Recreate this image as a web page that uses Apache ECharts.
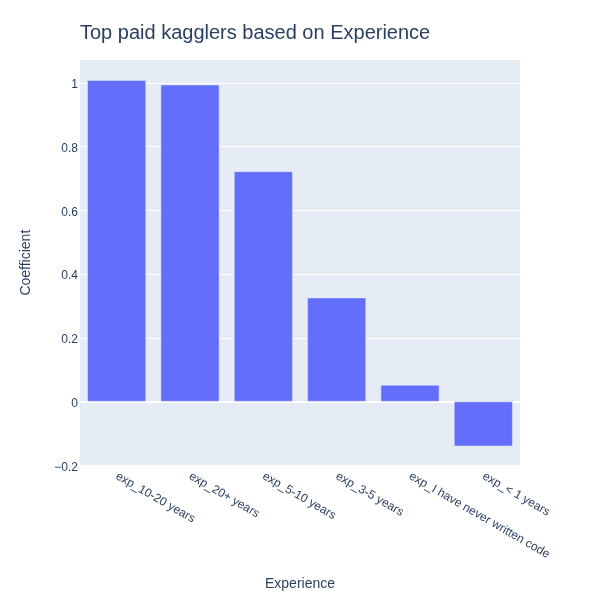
<!DOCTYPE html>
<html>
<head>
<meta charset="utf-8">
<script src="https://cdn.jsdelivr.net/npm/echarts@6/dist/echarts.min.js"></script>
<style>
  html, body { margin: 0; padding: 0; background: #fff; }
  #chart { width: 600px; height: 600px; }
</style>
</head>
<body>
<div id="chart"></div>
<script>
// experience groups and their coefficients
const categories = [
  'exp_10-20 years',
  'exp_20+ years',
  'exp_5-10 years',
  'exp_3-5 years',
  'exp_I have never written code',
  'exp_< 1 years'
]
const coefficients = [1.008, 0.994, 0.722, 0.326, 0.052, -0.140]
const yTicks = [-0.2, 0, 0.2, 0.4, 0.6, 0.8, 1]

const font = '"Liberation Sans", Arial, sans-serif'
const ink = '#2a3f5f'

const chart = echarts.init(document.getElementById('chart'))

chart.setOption({
  animation: false,
  title: {
    text: 'Top paid kagglers based on Experience',
    left: 75,
    top: 18,
    textStyle: { fontFamily: font, fontSize: 20, fontWeight: 'normal', color: ink }
  },
  grid: {
    left: 80,
    right: 80,
    top: 60,
    bottom: 134.7,
    show: true,
    backgroundColor: '#e5ecf6',
    borderWidth: 0
  },
  xAxis: {
    type: 'category',
    data: categories,
    name: 'Experience',
    nameLocation: 'middle',
    nameGap: 112,
    nameTextStyle: { fontFamily: font, fontSize: 14, color: ink },
    axisLine: { show: false },
    axisTick: { show: false },
    axisLabel: {
      rotate: -30,
      margin: 10,
      interval: 0,
      fontFamily: font,
      fontSize: 12,
      color: ink
    },
    splitLine: { show: false }
  },
  yAxis: {
    type: 'value',
    min: yTicks[0],
    max: 1.0717,
    interval: 0.2,
    name: 'Coefficient',
    nameLocation: 'middle',
    nameGap: 47,
    nameTextStyle: { fontFamily: font, fontSize: 14, color: ink },
    axisLine: { show: false },
    axisTick: { show: false },
    axisLabel: {
      showMaxLabel: false,
      margin: 2,
      fontFamily: font,
      fontSize: 12,
      color: ink,
      formatter: v => '{t|' + String(+v.toFixed(1)).replace('-', '\u2212') + '}',
      rich: {
        t: { fontFamily: font, fontSize: 12, color: ink, padding: [4, 0, 0, 0] }
      }
    },
    splitLine: {
      show: true,
      showMaxLine: false,
      lineStyle: { color: '#ffffff', width: 1 }
    }
  },
  series: [
    {
      type: 'bar',
      data: coefficients,
      barCategoryGap: '20%',
      itemStyle: { color: '#636efa', borderColor: '#e5ecf6', borderWidth: 0.5 },
      markLine: {
        silent: true,
        symbol: 'none',
        z: 1,
        label: { show: false },
        lineStyle: { color: '#ffffff', width: 2, type: 'solid' },
        data: [{ yAxis: 0 }]
      }
    }
  ]
})
</script>
</body>
</html>
